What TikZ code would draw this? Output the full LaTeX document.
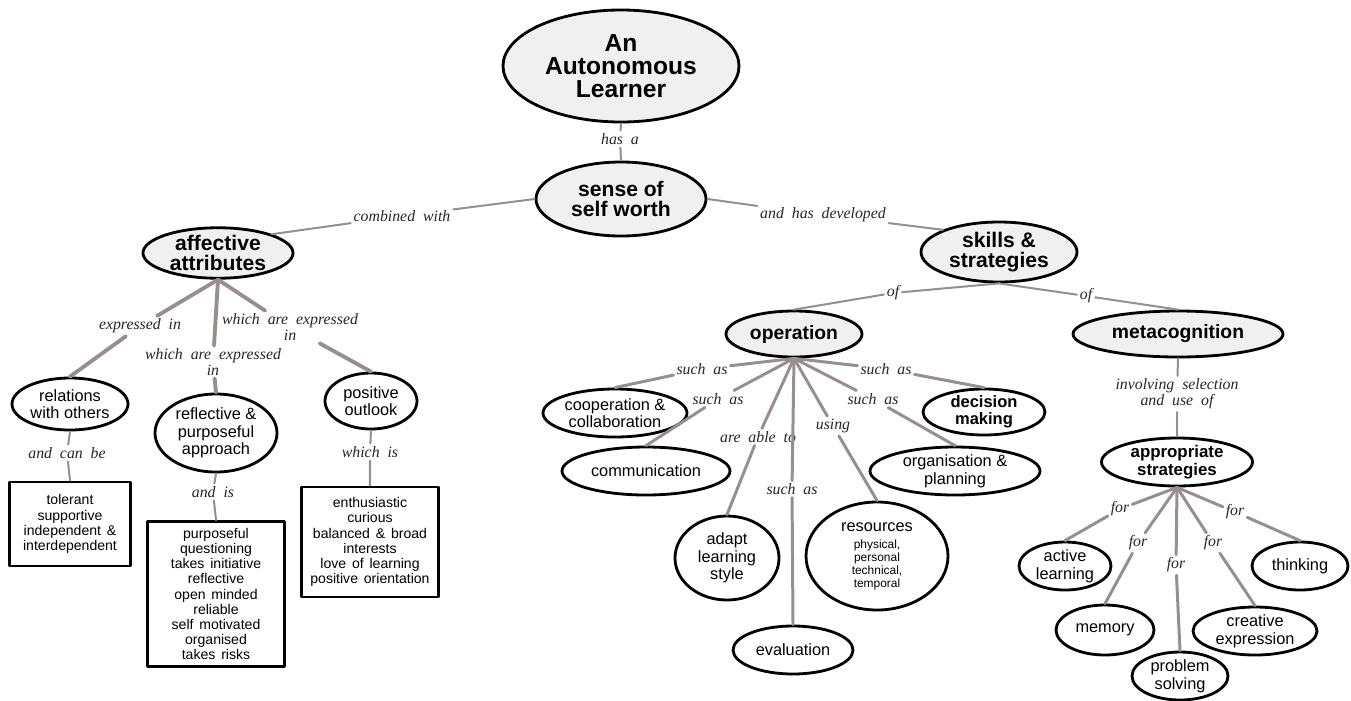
\documentclass[tikz,border=0pt]{standalone}
\usepackage{fontspec}
\setmainfont{Liberation Sans}
\newfontfamily\phrasefont{Liberation Serif}[WordSpace=2]
\newfontfamily\listfont{Liberation Sans}[WordSpace=1.5]
\usetikzlibrary{shapes.geometric}
\definecolor{linkgray}{RGB}{152,142,142}
\definecolor{keyfill}{RGB}{240,240,240}
\newcommand\resfont{\fontsize{6.8}{7.4}\selectfont}

\begin{document}
\begin{tikzpicture}[x=0.02cm, y=-0.02cm, line join=round, line cap=round,
  sz/.style 2 args={minimum width=#1*0.02cm, minimum height=#2*0.02cm},
  concept/.style={ellipse, draw, line width=1.6pt, fill=white, inner sep=0pt, align=center, font=\fontsize{9.3}{10}\selectfont},
  key/.style={concept, fill=keyfill, font=\bfseries\fontsize{12}{11.5}\selectfont},
  listbox/.style={rectangle, draw, line width=1.6pt, fill=white, inner sep=0pt, align=center, font=\listfont\fontsize{8}{8.6}\selectfont},
  phrase/.style={fill=white, inner sep=1.5pt, align=center, font=\phrasefont\itshape\fontsize{9}{9}\selectfont, text=black!85},
  link/.style={draw=linkgray, line width=#1},
]
\useasboundingbox (0,0) rectangle (1351,700);

% concepts
\node[key, sz={236}{112}, font=\bfseries\fontsize{14}{13.2}\selectfont] (aal) at (621,66) {An\\Autonomous\\Learner};
\node[key, sz={170}{74}] (ssw) at (621,199) {sense of\\self worth};
\node[key, sz={150}{50}] (aff) at (218,253) {affective\\attributes};
\node[key, sz={156}{60}] (skl) at (999,252) {skills \&\\strategies};
\node[key, sz={136}{46}, font=\bfseries\fontsize{11}{11}\selectfont] (opr) at (794,334) {operation};
\node[key, sz={210}{46}, font=\bfseries\fontsize{11}{11}\selectfont] (mtc) at (1178,334) {metacognition};

\node[concept, sz={116}{52}] (rel) at (70,404) {relations\\with others};
\node[concept, sz={122}{78}] (rpa) at (216,433) {reflective \&\\purposeful\\approach};
\node[concept, sz={92}{56}] (pos) at (371,401) {positive\\outlook};
\node[listbox, sz={121}{84}] (bx1) at (70,524) {tolerant\\supportive\\independent \&\\interdependent};
\node[listbox, sz={137}{145}] (bx2) at (216,594) {purposeful\\questioning\\takes initiative\\reflective\\open minded\\reliable\\self motivated\\organised\\takes risks};
\node[listbox, sz={137}{110}] (bx3) at (370,542) {enthusiastic\\curious\\balanced \& broad\\interests\\love of learning\\positive orientation};

\node[concept, sz={144}{48}] (coop) at (615,413) {cooperation \&\\collaboration};
\node[concept, sz={168}{48}] (comm) at (646,471) {communication};
\node[concept, sz={104}{84}] (adp) at (727,558) {adapt\\learning\\style};
\node[concept, sz={120}{48}] (evl) at (793,650) {evaluation};
\node[concept, sz={142}{108}, font=\fontsize{9.3}{7.4}\selectfont] (res) at (877,556) {resources\\[2.4pt]\resfont physical,\\\resfont personal\\\resfont technical,\\\resfont temporal};
\node[concept, sz={170}{48}] (org) at (955,471) {organisation \&\\planning};
\node[concept, sz={122}{46}, font=\bfseries\fontsize{9.4}{9.6}\selectfont] (dec) at (984,412) {decision\\making};
\node[concept, sz={151}{48}, font=\bfseries\fontsize{9.6}{10.2}\selectfont] (apr) at (1177,462) {appropriate\\strategies};
\node[concept, sz={92}{48}] (act) at (1065,566) {active\\learning};
\node[concept, sz={98}{50}] (mem) at (1105,630) {memory};
\node[concept, sz={96}{48}] (prob) at (1180,676) {problem\\solving};
\node[concept, sz={124}{48}] (cre) at (1255,631) {creative\\expression};
\node[concept, sz={96}{48}] (thi) at (1300,566) {thinking};

% linking phrases
\node[phrase] (lhas) at (620,139) {has a};
\node[phrase] (lcomb) at (402,216) {combined with};
\node[phrase] (ldev) at (823,215) {and has developed};
\node[phrase] (lof1) at (893,293) {of};
\node[phrase] (lof2) at (1086,296) {of};
\node[phrase] (lexp) at (140,326) {expressed in};
\node[phrase] (lwh1) at (213,362) {which are expressed\\in};
\node[phrase] (lwh2) at (290,327) {which are expressed\\in};
\node[phrase] (lcan) at (67,453) {and can be};
\node[phrase] (lis) at (213,492) {and is};
\node[phrase] (lwis) at (370,452) {which is};
\node[phrase] (ls1) at (702,369) {such as};
\node[phrase] (ls2) at (718,399) {such as};
\node[phrase] (labl) at (758,437) {are able to};
\node[phrase] (ls3) at (792,489) {such as};
\node[phrase] (luse) at (833,426) {using};
\node[phrase] (ls4) at (873,399) {such as};
\node[phrase] (ls5) at (886,369) {such as};
\node[phrase] (linv) at (1177,394) {involving selection\\and use of};
\node[phrase] (lf1) at (1120,509) {for};
\node[phrase] (lf2) at (1138,543) {for};
\node[phrase] (lf3) at (1176,565) {for};
\node[phrase] (lf4) at (1213,543) {for};
\node[phrase] (lf5) at (1235,512) {for};

% connectors
\foreach \a/\l/\b/\w in {aal.south/lhas/ssw.north/1.15pt, ssw.west/lcomb/aff.north east/1.15pt,
    ssw.east/ldev/skl.north west/1.15pt, skl.south/lof1/opr.north/1.15pt, skl.south/lof2/mtc.north/1.15pt,
    aff.south/lexp/rel.north/2.2pt, aff.south/lwh1/rpa.north/2.2pt, aff.south/lwh2/pos.north/2.2pt,
    rel.south/lcan/bx1.north/1.15pt, rpa.south/lis/bx2.north/1.15pt, pos.south/lwis/bx3.north/1.15pt,
    opr.south/ls1/coop.north/1.7pt, opr.south/ls2/comm.north/1.7pt, opr.south/labl/adp.north/1.7pt,
    opr.south/ls3/evl.north/1.7pt, opr.south/luse/res.north/1.7pt, opr.south/ls4/org.north/1.7pt,
    opr.south/ls5/dec.north/1.7pt, mtc.south/linv/apr.north/1.15pt,
    apr.south/lf1/act.north/1.7pt, apr.south/lf2/mem.north/1.7pt, apr.south/lf3/prob.north/1.7pt,
    apr.south/lf4/cre.north/1.7pt, apr.south/lf5/thi.north/1.7pt}
  \draw[link=\w] (\a) -- (\l) -- (\b);
\end{tikzpicture}
\end{document}
